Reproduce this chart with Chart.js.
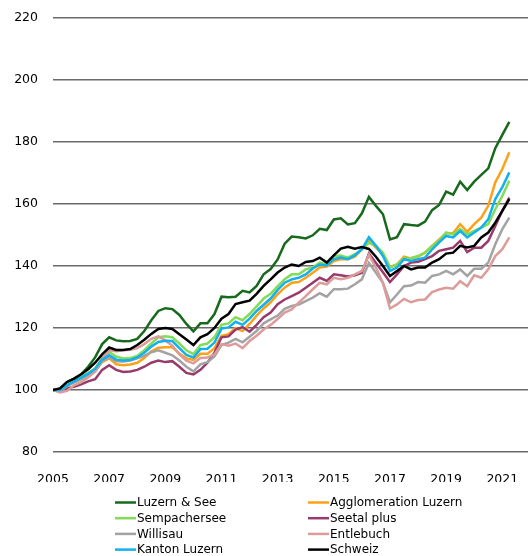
<!DOCTYPE html>
<html><head><meta charset="utf-8">
<script src="https://cdn.jsdelivr.net/npm/chart.js@4/dist/chart.umd.min.js"></script>
<style>html,body{margin:0;padding:0;background:#fff;overflow:hidden;}</style>
</head><body>
<canvas id="c" width="528" height="556"></canvas>
<script>
// Quarterly periods 2005 Q1 .. 2021 Q2
const quarters = [];
for (let y = 2005; y <= 2021; y++) for (let q = 1; q <= 4; q++) quarters.push(y + ' Q' + q);
quarters.length = 66;
const yearTicks = ['2005','2007','2009','2011','2013','2015','2017','2019','2021'];
const yTicks = [80,100,120,140,160,180,200,220];

const seriesNames = ['Luzern & See','Agglomeration Luzern','Sempachersee','Seetal plus','Willisau','Entlebuch','Kanton Luzern','Schweiz'];
const seriesColors = ['#17691c','#fba21a','#82dc55','#983b6c','#a3a3a3','#dc9c9a','#12b0ee','#000000'];

const luzernSee = [100,100.4,102.6,103.6,105,107.5,110.5,114.8,117,116,
  115.7,115.8,116.5,119,122.5,125.5,126.4,126.1,124.2,121.3,
  118.9,121.5,121.5,124.5,130.1,129.9,130.1,132,131.5,133.6,
  137.3,139,142.1,147.2,149.5,149.3,148.9,149.9,152,151.6,
  155,155.4,153.4,153.8,157,162.3,159.4,156.7,148.6,149.3,
  153.5,153.2,153,154.3,158,159.7,164,163,167.2,164.5,
  167.2,169.4,171.5,178,182.3,186.5];
const agglomeration = [100,100,101.3,102.5,103.5,104.5,106,109,110.2,108.3,
  108,108.2,108.8,110.3,112.5,113.6,113.8,113.8,111.8,110.2,
  109.7,111.7,111.7,113.5,117.5,118,120,119,121.3,124,
  126.3,128.3,130.9,133,134.6,134.8,136.2,137.8,139.5,139.8,
  141.6,142.2,142.2,143,145.4,148.3,145.9,143.8,139.7,140.5,
  143,142.4,143,144.3,146.5,148.6,150.6,150.6,153.5,151,
  153.5,155.6,159.4,167,171.3,176.7];
const sempachersee = [100,100.3,101.8,103,104.3,105.5,107,110.3,112.3,110.8,
  110.2,110.3,111,112.8,115,117,117.3,117,115,112.8,
  111.6,114.5,115,117,121,121.5,123.5,122.5,124.5,127,
  129.5,131,133.5,135.7,137.3,137.3,138.9,139.5,141.1,140.5,
  143.2,143.4,142.7,143.8,145.4,147.5,146.5,144.3,139.5,140.5,
  142.5,142.6,143.2,144.3,146.5,148.1,150.8,150.2,151.9,150.2,
  151.3,152.4,153.5,158.3,162.6,167.5];
const seetalPlus = [100,99.8,100.6,101,101.8,102.8,103.5,106.5,108,106.5,
  105.8,106,106.5,107.5,108.8,109.5,109,109.3,107.5,105.5,
  105,106.5,108.8,112,117,117.3,119.5,120.3,118.8,121,
  123.5,125,127.7,129.2,130.3,131.4,133,134.6,136.2,135.2,
  137.3,137,136.6,137,137.8,144,141,138,134.8,137.3,
  140,141.1,141.4,142.2,143.2,144.9,145.4,145.9,148.1,144.5,
  145.9,145.9,148.1,152.9,157.8,162.1];
const willisau = [100,99.6,101.2,102.5,103.5,104.5,106,109.3,110.5,109.3,
  109.2,109.5,110.2,111,112.2,112.8,112,111.2,109.5,107.5,
  106,108.3,109,110.8,114.5,115.3,116.5,115.4,117.2,119,
  121.5,122.8,124,126.2,127.1,127.6,128.7,129.8,131.2,130.1,
  132.5,132.5,132.7,134.1,135.7,141,137.8,134.6,128.3,130.8,
  133.5,133.7,134.8,134.6,136.8,137.3,138.4,137.3,138.9,136.8,
  139.1,139.1,141.1,147,151.9,155.6];
const entlebuch = [100,99.2,99.7,101.5,102.5,104,106,110,112.8,112.5,
  112.8,113,113.5,114.8,116.5,117.3,116,114.3,111.5,109.5,
  108.6,110.3,110.5,111.5,114.8,114.3,115,113.5,115.8,117.5,
  119.5,121,122.9,125,126,128.2,130.3,132.5,134.6,134.1,
  136.2,135.7,136.2,137.3,138.4,143.6,139.5,134.5,126.3,127.6,
  129.4,128.3,129,129.2,131.6,132.4,133,132.7,135.1,133.5,
  137,136.2,138.9,143.2,145.4,149.2];
const kantonLuzern = [100,100,101.5,102.8,104,105.2,106.8,109.8,111.2,109.8,
  109.5,109.7,110.5,112,114,115.5,115.9,115.8,113.5,111.3,
  110.5,113.2,113.3,115.3,119.8,120.2,122,121,123,125.5,
  127.5,129.5,132.3,134.6,135.7,136.2,137.3,139.2,140.5,140.2,
  142.2,142.7,142.2,143.4,145.4,149.3,146.5,143.2,138.4,139.5,
  142.2,141.6,142.2,142.7,145.4,147.6,149.7,149.2,151.3,149.2,
  150.8,152.4,155.1,161.6,165.4,170.2];
const schweiz = [100,100.5,102.6,103.7,105.1,106.7,108.8,111.5,113.7,112.9,
  112.9,113.2,114.5,116.2,118.1,119.7,120,119.7,118,116.3,
  114.5,117,118,120,123,124.5,127.7,128.3,128.8,131,
  133.6,135.7,137.9,139.5,140.5,140,141.3,141.6,142.7,141.1,
  143.4,145.6,146.2,145.6,146.1,145.5,143,140,136.8,138.4,
  140,138.9,139.5,139.5,141.1,142.2,144,144.3,146.5,146,
  146.5,149.2,150.8,154,157.8,161.6];

const seriesValues = [luzernSee, agglomeration, sempachersee, seetalPlus, willisau, entlebuch, kantonLuzern, schweiz];

const FONT = 'DejaVu Sans';

const legendPlugin = {
  id: 'gridLegend',
  afterDraw(chart) {
    const ctx = chart.ctx;
    const colX = [115, 308];
    const rowY0 = 502.5, rowH = 15.7;
    ctx.save();
    ctx.font = '12px "' + FONT + '"';
    ctx.textBaseline = 'middle';
    ctx.textAlign = 'left';
    chart.data.datasets.forEach((ds, k) => {
      const x = colX[k % 2];
      const y = rowY0 + Math.floor(k / 2) * rowH;
      ctx.strokeStyle = ds.borderColor;
      ctx.lineWidth = 2.5;
      ctx.beginPath(); ctx.moveTo(x, y); ctx.lineTo(x + 21, y); ctx.stroke();
      ctx.fillStyle = '#000';
      ctx.fillText(ds.label, x + 22, y + 0.5);
    });
    ctx.restore();
  }
};

new Chart(document.getElementById('c'), {
  type: 'line',
  data: {
    datasets: seriesNames.map((name, k) => ({
      label: name,
      data: seriesValues[k].map((v, i) => ({ x: i, y: v })),
      borderColor: seriesColors[k],
      backgroundColor: seriesColors[k],
      borderWidth: 2.5,
      pointRadius: 0,
      tension: 0,
      fill: false,
      order: seriesNames.length - k
    }))
  },
  options: {
    responsive: false,
    animation: false,
    devicePixelRatio: 1,
    layout: { padding: { top: 18, bottom: 74, left: 0, right: 0 } },
    plugins: { legend: { display: false }, title: { display: false }, tooltip: { enabled: false } },
    scales: {
      x: {
        type: 'linear',
        min: 0,
        max: 67.66,
        grid: { display: false },
        border: { display: false },
        afterBuildTicks: (s) => { s.ticks = yearTicks.map(t => ({ value: quarters.indexOf(t + ' Q1') })); },
        afterFit: (s) => { s.height = 30; s.paddingLeft = 0; s.paddingRight = 0; },
        ticks: {
          autoSkip: false, maxRotation: 0, padding: 12, color: '#000',
          font: { family: FONT, size: 12.5 },
          callback: (v) => quarters[v] ? quarters[v].slice(0, 4) : ''
        }
      },
      y: {
        min: 80,
        max: 220,
        afterBuildTicks: (s) => { s.ticks = yTicks.map(v => ({ value: v })); },
        afterFit: (s) => { s.width = 53; s.paddingTop = 0; s.paddingBottom = 0; },
        grid: { color: '#6a6a6a', lineWidth: 1.5, drawTicks: false },
        border: { display: false },
        ticks: { padding: 15, color: '#000', font: { family: FONT, size: 12.5 } }
      }
    }
  },
  plugins: [legendPlugin]
});
</script>
</body></html>
